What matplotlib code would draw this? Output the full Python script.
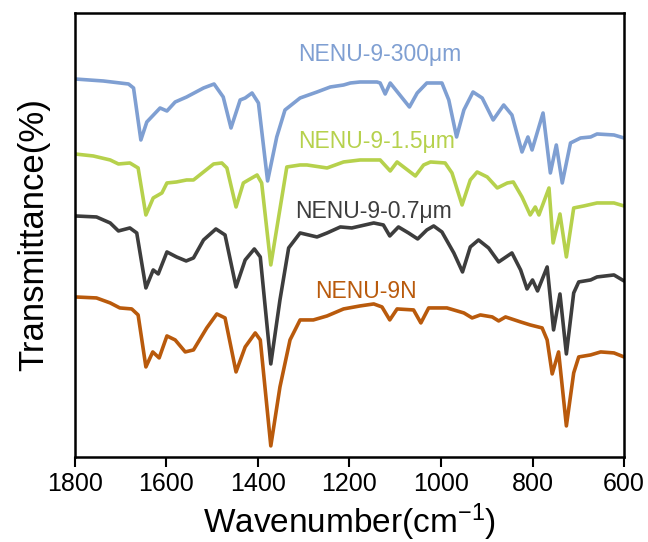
import matplotlib
matplotlib.use("Agg")
import matplotlib.pyplot as plt

plt.rcParams['font.family'] = ['Liberation Sans', 'DejaVu Sans']
plt.rcParams['mathtext.default'] = 'regular'

# ---- data (wavenumber in cm-1, transmittance in arbitrary offset units) ----
wn_300 = [1800, 1738, 1683, 1672, 1656, 1643, 1614, 1599, 1581, 1556, 1519, 1496, 1476, 1459,
          1439, 1428, 1413, 1399, 1379, 1359, 1341, 1308, 1271, 1242, 1213, 1198, 1177, 1140,
          1133, 1122, 1111, 1069, 1052, 1031, 998, 983, 966, 950, 930, 910, 886, 863, 845, 823,
          810, 801, 777, 761, 748, 735, 717, 695, 673, 659, 622, 600]
t_300 = [378, 376, 373, 369, 317, 335, 349, 346, 355, 360, 369, 373, 360, 329,
         357, 359, 364, 354, 276, 320, 347, 359, 365, 370, 372, 374, 375, 375,
         374, 363, 374, 350, 364, 374, 374, 357, 320, 347, 365, 359, 337, 352, 342, 305,
         320, 307, 344, 284, 312, 274, 314, 319, 320, 323, 322, 319]

wn_15 = [1800, 1760, 1723, 1705, 1680, 1662, 1645, 1629, 1610, 1599, 1578, 1556, 1541, 1519,
         1497, 1479, 1468, 1448, 1432, 1421, 1402, 1392, 1372, 1337, 1308, 1293, 1249, 1213,
         1177, 1133, 1111, 1096, 1056, 1038, 1023, 991, 976, 954, 936, 921, 899, 877, 855, 842,
         823, 805, 794, 786, 764, 755, 740, 726, 710, 688, 659, 622, 600]
t_15 = [303, 301, 297, 293, 294, 289, 242, 259, 264, 274, 275, 277, 277, 285,
        293, 294, 289, 250, 274, 277, 282, 274, 192, 290, 292, 292, 289, 295,
        297, 297, 286, 295, 281, 292, 295, 294, 284, 252, 277, 285, 280, 269, 274, 275,
        260, 242, 250, 242, 269, 214, 243, 200, 249, 251, 254, 254, 251]

wn_07 = [1800, 1753, 1723, 1705, 1680, 1665, 1645, 1629, 1618, 1599, 1578, 1557, 1541, 1519,
         1492, 1472, 1448, 1428, 1408, 1395, 1372, 1352, 1333, 1308, 1271, 1249, 1220, 1195,
         1147, 1126, 1112, 1093, 1071, 1051, 1031, 1016, 998, 972, 953, 936, 918, 896, 874,
         845, 826, 812, 800, 789, 768, 754, 740, 726, 710, 699, 673, 659, 622, 600]
t_07 = [241, 240, 234, 226, 229, 224, 169, 187, 183, 205, 200, 196, 199, 217,
        228, 222, 170, 197, 208, 200, 93, 157, 209, 224, 220, 224, 230, 229,
        234, 232, 221, 230, 224, 218, 227, 231, 225, 204, 185, 210, 217, 209, 195,
        204, 187, 168, 177, 166, 190, 127, 163, 103, 164, 175, 177, 180, 182, 176]

wn_9n = [1800, 1753, 1723, 1702, 1676, 1662, 1645, 1630, 1616, 1599, 1581, 1559, 1541, 1512,
         1490, 1472, 1448, 1428, 1406, 1395, 1372, 1352, 1330, 1308, 1279, 1249, 1213, 1177,
         1147, 1129, 1112, 1096, 1060, 1044, 1027, 987, 950, 932, 914, 888, 874, 859, 826,
         805, 779, 768, 757, 743, 726, 710, 699, 673, 651, 622, 600]
t_9n = [160, 159, 154, 149, 148, 142, 90, 105, 99, 121, 117, 105, 107, 129,
        143, 139, 85, 110, 124, 117, 11, 70, 117, 137, 137, 141, 148, 151,
        153, 150, 137, 148, 147, 134, 149, 149, 144, 139, 142, 140, 136, 140, 135,
        132, 129, 117, 83, 105, 31, 84, 100, 102, 105, 104, 100]

labels = ["NENU-9-300\u03bcm", "NENU-9-1.5\u03bcm", "NENU-9-0.7\u03bcm", "NENU-9N"]
colors = ["#7f9fd2", "#b6d14c", "#3d3d3d", "#b95a0c"]
label_pos = [(1133, 402), (1141, 315), (1147, 245), (1163, 165)]

fig = plt.figure(figsize=(6.48, 5.42), dpi=100)
ax = fig.add_axes([0.1157, 0.157, 0.963 - 0.1157, 0.976 - 0.157])

series = [(wn_300, t_300), (wn_15, t_15), (wn_07, t_07), (wn_9n, t_9n)]
for (x, y), c in zip(series, colors):
    ax.plot(x, y, color=c, lw=2.6, solid_joinstyle='round', solid_capstyle='round')

for lab, c, (px, py) in zip(labels, colors, label_pos):
    ax.text(px, py, lab, color=c, fontsize=16.5, ha='center', va='center')

ax.set_xlim(1800, 600)
ax.set_ylim(0, 444)
ax.set_xticks([1800, 1600, 1400, 1200, 1000, 800, 600])
ax.set_yticks([])
ax.tick_params(axis='x', direction='out', length=7, width=1.5, labelsize=18, pad=4)
for s in ax.spines.values():
    s.set_linewidth(1.8)
    s.set_color('black')

ax.set_xlabel("Wavenumber(cm$^{-1}$)", fontsize=24, labelpad=4)
ax.set_ylabel("Transmittance(%)", fontsize=25, labelpad=18)

fig.savefig("out.png", dpi=100)
